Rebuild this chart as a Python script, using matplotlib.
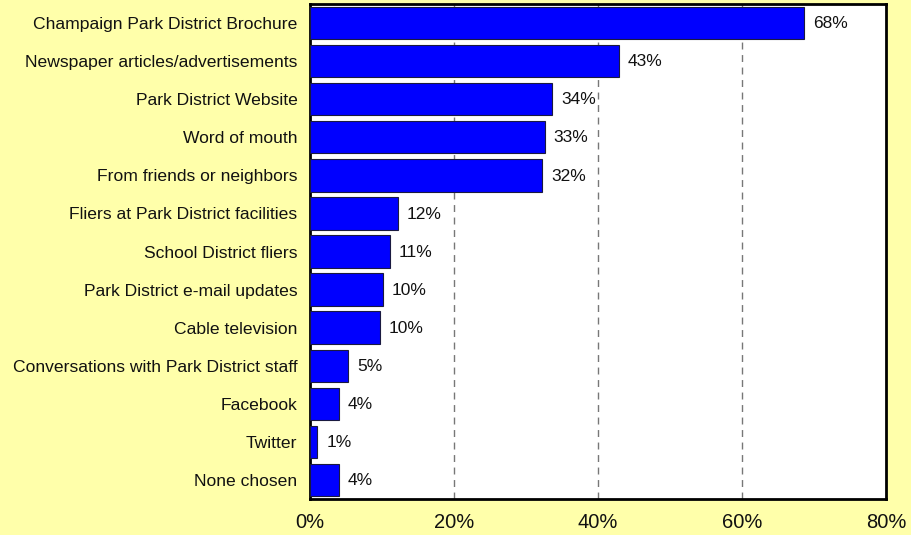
import matplotlib
matplotlib.use("Agg")
import matplotlib.pyplot as plt

categories = [
    "Champaign Park District Brochure",
    "Newspaper articles/advertisements",
    "Park District Website",
    "Word of mouth",
    "From friends or neighbors",
    "Fliers at Park District facilities",
    "School District fliers",
    "Park District e-mail updates",
    "Cable television",
    "Conversations with Park District staff",
    "Facebook",
    "Twitter",
    "None chosen",
]
values = [68.6, 42.9, 33.6, 32.6, 32.2, 12.2, 11.1, 10.1, 9.7, 5.3, 4.0, 1.0, 4.0]
labels = ["68%", "43%", "34%", "33%", "32%", "12%", "11%", "10%", "10%", "5%", "4%", "1%", "4%"]
xticks = [0, 20, 40, 60, 80]
xticklabels = ["0%", "20%", "40%", "60%", "80%"]

plt.rcParams['font.family'] = ['Liberation Sans', 'DejaVu Sans']

bg = "#FFFFAA"
fig = plt.figure(figsize=(9.11, 5.35), dpi=100, facecolor=bg)
ax = fig.add_axes([310/911, 1 - 499/535, (886 - 310)/911, (499 - 4)/535])
ax.set_facecolor("white")

y = list(range(len(categories)))
ax.barh(y, values, height=0.85, color="#0000FF", edgecolor="#1a1a40", linewidth=0.8, zorder=3)
for yi, v, lab in zip(y, values, labels):
    ax.annotate(lab, (v, yi), xytext=(6.5, -0.5), textcoords="offset points",
                va="center", ha="left", fontsize=12.5, color="#111111", zorder=4)

ax.set_xlim(0, 80)
ax.set_ylim(len(categories) - 0.5, -0.5)
ax.set_yticks(y)
ax.set_yticklabels(categories, fontsize=12.6, color="#111111")
ax.set_xticks(xticks)
ax.set_xticklabels(xticklabels, fontsize=14.5, color="#111111")
ax.tick_params(axis="both", length=0)
ax.tick_params(axis="y", pad=9)
ax.tick_params(axis="x", pad=10)

for gx in [20, 40, 60]:
    ax.axvline(gx, color="#777777", linestyle=(0, (5, 4)), linewidth=1.0, zorder=1)

for s in ax.spines.values():
    s.set_color("black")
    s.set_linewidth(2)

fig.savefig("out.png", dpi=100, facecolor=bg)
